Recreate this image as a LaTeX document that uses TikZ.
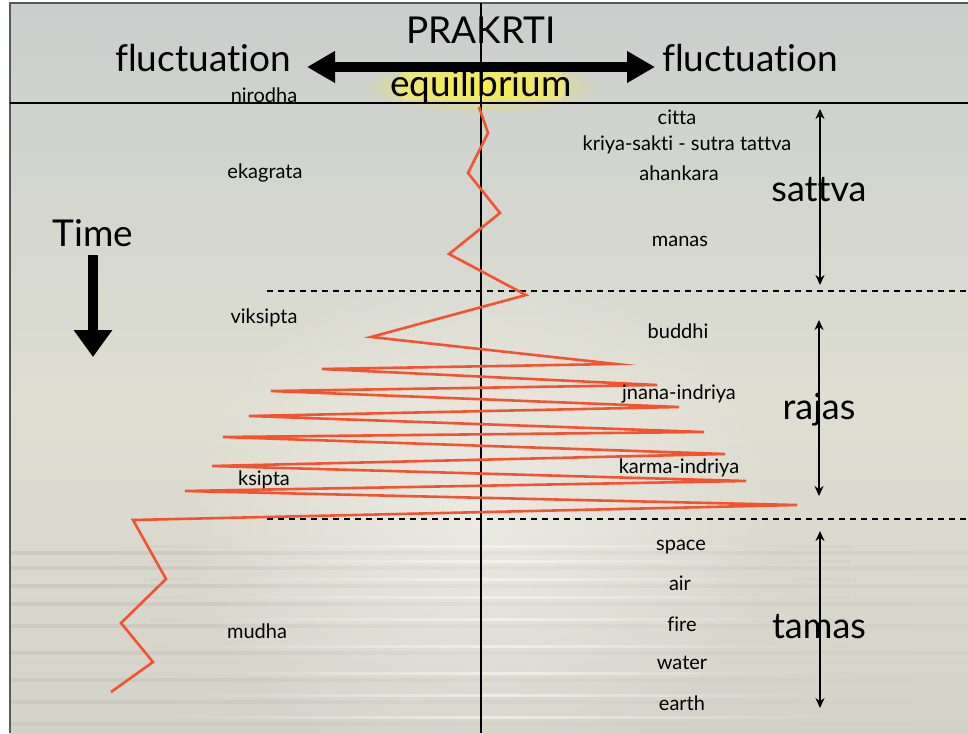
\documentclass[tikz,border=0pt]{standalone}
\usepackage{fontspec}
\setmainfont{Lato}[Ligatures={NoCommon,NoRequired,NoContextual,NoDiscretionary}]
\usetikzlibrary{arrows.meta,fadings}
\definecolor{zig}{HTML}{F5522F}
\definecolor{skytop}{HTML}{CACECD}
\definecolor{skymid}{HTML}{DEDED1}
\definecolor{water}{HTML}{D3D3C9}
\tikzfading[name=softspot, inner color=transparent!0, outer color=transparent!100]
\tikzset{
  small/.style={font=\fontsize{20}{22}\selectfont, inner sep=0pt},
  big/.style={font=\fontsize{37}{40}\selectfont, inner sep=0pt},
  guna/.style={font=\fontsize{36}{38}\selectfont, inner sep=0pt},
  zigline/.style={draw=zig, line width=2.6pt, line join=miter, miter limit=30},
  dashline/.style={line width=2pt, dash pattern=on 6pt off 5pt},
  gunaarrow/.style={line width=1.8pt, {Stealth[length=10pt,width=9pt]}-{Stealth[length=10pt,width=9pt]}},
  fatarrow/.style={line width=10pt, {Triangle[length=28pt,width=30pt]}-{Triangle[length=28pt,width=30pt]}},
}
\begin{document}
\begin{tikzpicture}[x=1pt,y=-1pt]
\useasboundingbox (0,0) rectangle (968,733);
\fill[white] (0,0) rectangle (968,733);
% background
\shade[top color=skytop, bottom color=skymid] (10,3) rectangle (968,400);
\shade[top color=skymid, bottom color=water] (10,400) rectangle (968,733);
\foreach \yy in {545,560,578,596,618,645,672,694,716} {
  \shade[left color=water, right color=water, middle color=white!50!water] (150,\yy) rectangle (850,\yy+2);
  \shade[left color=water!96!black, right color=water, middle color=water!98!black] (10,\yy+6) rectangle (968,\yy+9);
}
\fill[white, opacity=0.45, path fading=softspot] (480,520) ellipse (300 and 260);
\draw[gray!70!black, line width=1.2pt] (10,733) -- (10,3) -- (968,3);

% yellow glow behind equilibrium
\fill[yellow!90!white, opacity=0.8, path fading=softspot] (481,86) ellipse (120 and 28);
\fill[yellow!70!white, opacity=0.45, rounded corners=8pt] (398,72) rectangle (564,100);

% structure lines
\draw[line width=2pt] (10,103) -- (968,103);
\draw[line width=2pt] (481,3) -- (481,733);
\draw[dashline] (267,291) -- (968,291);
\draw[dashline] (267,519) -- (968,519);

% top labels
\node[big] (prakrti) at (481,30) {PRAKRTI};
\node[big] (flucL) at (203,58) {fluctuation};
\node[big] (flucR) at (750,58) {fluctuation};
\node[big] (equi) at (481,86) {equilibrium};
\coordinate (arL) at (307,67);
\coordinate (arR) at (655,67);
\draw[fatarrow] (arL) -- (arR);

% time
\node[big] (time) at (93,233) {Time};
\coordinate (timeTop) at (93,255);
\coordinate (timeBot) at (93,357);
\draw[line width=10pt, -{Triangle[length=27pt,width=37pt]}] (timeTop) -- (timeBot);

% zigzag
\draw[zigline] (479,107) -- (488,133) -- (468,173) -- (500,213) -- (449,254) -- (526,295)
  -- (371,337) -- (616,364) -- (322,369) -- (657,385) -- (271,391) -- (679,407)
  -- (249,416) -- (704,432) -- (223,437) -- (725,454) -- (212,466) -- (746,481)
  -- (185,491) -- (797,505) -- (133,520) -- (166,579) -- (121,623) -- (153,662) -- (111,692);

% left labels
\node[small] (nirodha) at (264,95) {nirodha};
\node[small] (ekagrata) at (265,173) {ekagrata};
\node[small] (viksipta) at (264,318) {viksipta};
\node[small] (ksipta) at (264,480) {ksipta};
\node[small] (mudha) at (257,631) {mudha};

% right labels
\node[small] (citta) at (677,117) {citta};
\node[small] (kriya) at (687,145) {kriya-sakti - sutra tattva};
\node[small] (ahankara) at (679,173) {ahankara};
\node[small] (manas) at (680,241) {manas};
\node[small] (buddhi) at (678,331) {buddhi};
\node[small] (jnana) at (679,394) {jnana-indriya};
\node[small] (karma) at (679,468) {karma-indriya};
\node[small] (space) at (681,547) {space};
\node[small] (air) at (680,583) {air};
\node[small] (fire) at (682,624) {fire};
\node[small] (waterl) at (682,663) {water};
\node[small] (earth) at (682,703) {earth};

% guna arrows
\coordinate (satT) at (820,109);
\coordinate (satB) at (820,285);
\coordinate (rajT) at (819,320);
\coordinate (rajB) at (819,496);
\coordinate (tamT) at (820,531);
\coordinate (tamB) at (820,708);
\draw[gunaarrow] (satT) -- (satB);
\draw[gunaarrow] (rajT) -- (rajB);
\draw[gunaarrow] (tamT) -- (tamB);
\node[guna] (sattva) at (819,190) {sattva};
\node[guna] (rajas) at (819,410) {rajas};
\node[guna] (tamas) at (819,627) {tamas};
\end{tikzpicture}
\end{document}
